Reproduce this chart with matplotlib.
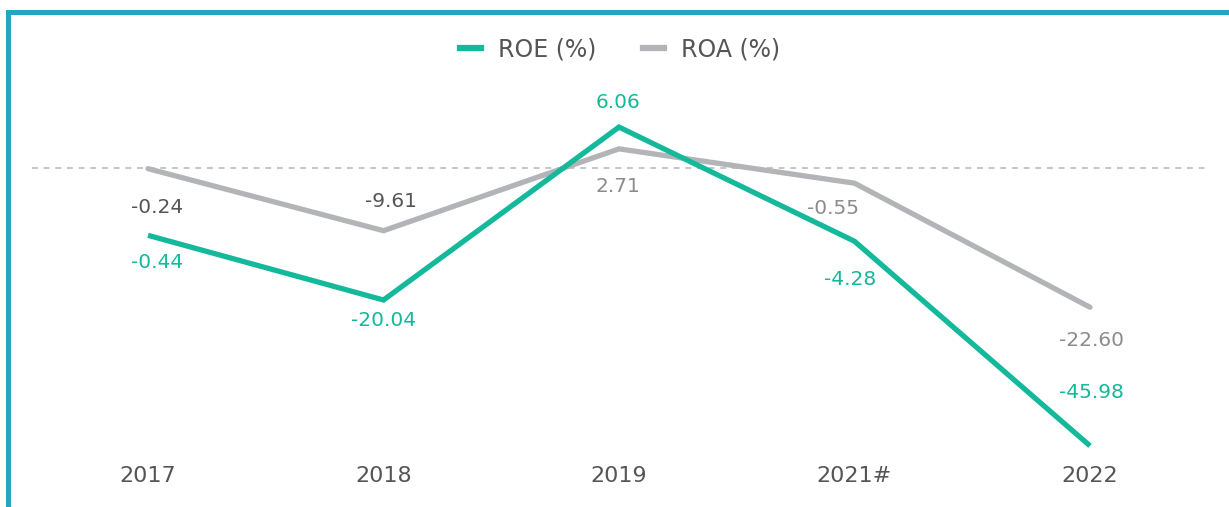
import matplotlib
matplotlib.use("Agg")
import matplotlib.pyplot as plt
from matplotlib.patches import Rectangle
from matplotlib.lines import Line2D

# ---- data ----
categories = ["2017", "2018", "2019", "2021#", "2022"]
roe_values = [-10.2, -20.0, 6.2, -11.1, -42.1]      # plotted positions (as drawn)
roa_values = [-0.1, -9.5, 2.9, -2.3, -21.1]
roe_labels = ["-0.44", "-20.04", "6.06", "-4.28", "-45.98"]
roa_labels = ["-0.24", "-9.61", "2.71", "-0.55", "-22.60"]

# ---- styles ----
TEAL = "#14B89A"
GRAY = "#B3B4B7"
BORDER = "#22A7BE"
TXT = "#555555"
FONT = ["DejaVu Sans"]
plt.rcParams["font.family"] = FONT

W, H = 1229, 507
fig = plt.figure(figsize=(W / 100, H / 100), dpi=100)
ax = fig.add_axes([0, 0, 1, 1])
ax.set_axis_off()

# pixel mapping: category i -> x = 148 + 235.5 i ; value v -> y = 168 - 6.6 v
xs = list(range(len(categories)))
ax.set_xlim(-148 / 235.5, (W - 148) / 235.5)
ax.set_ylim((168 - H) / 6.6, 168 / 6.6)

# zero dashed line
x0 = (32 - 148) / 235.5
x1 = (1210 - 148) / 235.5
ax.plot([x0, x1], [0, 0], color="#BBBBBB", lw=1.2, dashes=(3.5, 3.5), zorder=1)

ax.plot(xs, roa_values, color=GRAY, lw=3.8, solid_joinstyle="miter", solid_capstyle="round", zorder=2)
ax.plot(xs, roe_values, color=TEAL, lw=3.8, solid_joinstyle="miter", solid_capstyle="butt", zorder=3)

# data labels (offsets in pixels)
roe_off = [(9, -27), (0, -21), (-1, 25), (-4, -38), (1, 53)]
roa_off = [(9, -39), (7, 29), (-1, -38), (-21, -25), (1, -33)]
roa_cols = ["#555555", "#555555", "#8C8C8C", "#8C8C8C", "#8C8C8C"]
for i in xs:
    ax.annotate(roe_labels[i], (xs[i], roe_values[i]), xytext=roe_off[i],
                textcoords="offset pixels", ha="center", va="center",
                color=TEAL, fontsize=14.5)
    ax.annotate(roa_labels[i], (xs[i], roa_values[i]), xytext=roa_off[i],
                textcoords="offset pixels", ha="center", va="center",
                color=roa_cols[i], fontsize=14.5)

# category labels
for i, c in enumerate(categories):
    ax.annotate(c, (xs[i], 0), xycoords=("data", "axes fraction"),
                xytext=(0, H - 476), textcoords="offset pixels",
                ha="center", va="center", color=TXT, fontsize=16)

# legend
handles = [Line2D([], [], color=TEAL, lw=4.5), Line2D([], [], color=GRAY, lw=4.5)]
leg = ax.legend(handles, ["ROE (%)", "ROA (%)"], loc="center", bbox_to_anchor=(620 / W, 1 - 49 / H),
                ncol=2, frameon=False, fontsize=17, handlelength=0.9, handletextpad=0.7,
                columnspacing=2.0, labelcolor=TXT)

# border (left + top)
fig.add_artist(Rectangle((6 / W, 0), 5 / W, (H - 10) / H, transform=fig.transFigure,
                         facecolor=BORDER, edgecolor="none"))
fig.add_artist(Rectangle((6 / W, (H - 15) / H), 1 - 6 / W, 5 / H, transform=fig.transFigure,
                         facecolor=BORDER, edgecolor="none"))

fig.savefig("out.png", dpi=100, facecolor="white")
